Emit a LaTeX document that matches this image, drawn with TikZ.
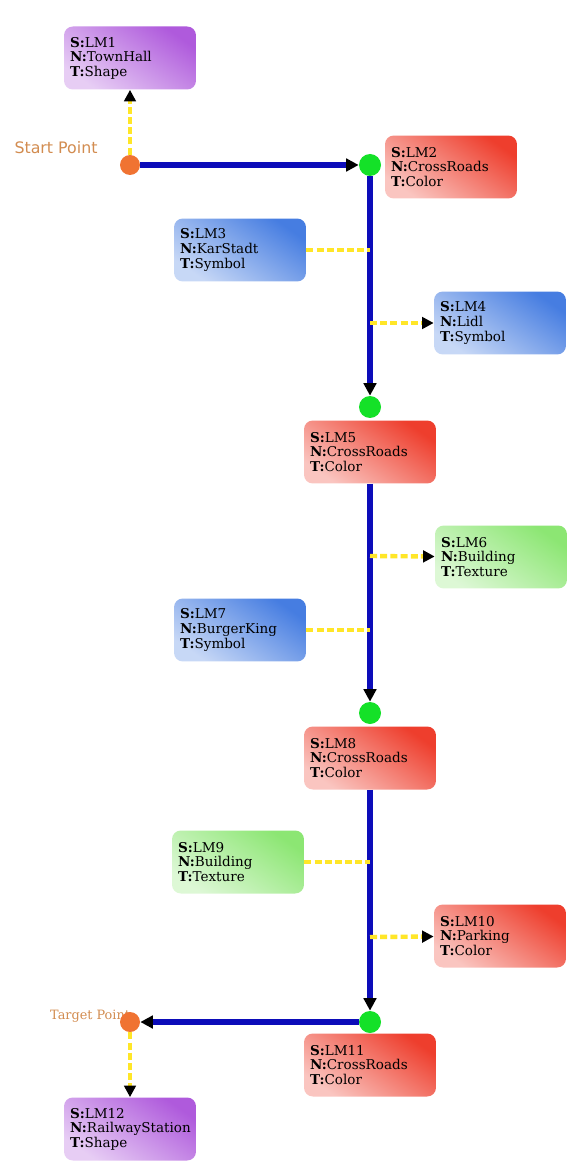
\documentclass[tikz,border=0pt]{standalone}
\usepackage{fontspec}
\setmainfont{DejaVu Serif}
\setsansfont{DejaVu Sans}
\usepackage{xcolor}
\usetikzlibrary{arrows.meta, positioning}
\definecolor{roadblue}{RGB}{12,12,185}
\definecolor{linkyellow}{RGB}{255,230,40}
\definecolor{crossgreen}{RGB}{20,225,40}
\definecolor{ptorange}{RGB}{240,115,50}
\definecolor{lblorange}{RGB}{210,140,80}
\definecolor{lmred}{RGB}{238,62,45}
\definecolor{lmblue}{RGB}{70,125,225}
\definecolor{lmgreen}{RGB}{140,230,115}
\definecolor{lmpurple}{RGB}{175,90,220}

\begin{document}
\begin{tikzpicture}[
    x=0.02cm, y=-0.02cm,
    lm/.style={rectangle, rounded corners=5pt, text width=2.4cm, inner xsep=0.12cm, minimum height=1.26cm, align=left, font=\fontsize{7.7}{8.3}\selectfont},
    redlm/.style={lm, bottom color=lmred!30!white, top color=lmred, shading angle=-35},
    bluelm/.style={lm, bottom color=lmblue!30!white, top color=lmblue, shading angle=-35},
    greenlm/.style={lm, bottom color=lmgreen!30!white, top color=lmgreen, shading angle=-35},
    purplelm/.style={lm, bottom color=lmpurple!30!white, top color=lmpurple, shading angle=-35},
    cross/.style={circle, fill=crossgreen, minimum size=0.44cm, inner sep=0pt},
    endpt/.style={circle, fill=ptorange, minimum size=0.4cm, inner sep=0pt},
    road/.style={draw=roadblue, line width=3pt, -{Triangle[color=black, length=0.25cm, width=0.25cm]}},
    link/.style={draw=linkyellow, line width=2.5pt, dash pattern=on 4pt off 1.8pt},
    linkarrow/.style={link, -{Triangle[color=black, length=0.23cm, width=0.23cm]}},
]
    \useasboundingbox (0,0) rectangle (571,1165);

    \node[purplelm] (lm1) at (130,58) {\textbf{S:}LM1\\\textbf{N:}TownHall\\\textbf{T:}Shape};
    \node[font=\sffamily\fontsize{9}{10}\selectfont, text=lblorange] (startlbl) at (56,148) {Start Point};
    \node[endpt] (start) at (130,165) {};

    \node[cross] (x2) at (370,165) {};
    \node[redlm] (lm2) at (451,167) {\textbf{S:}LM2\\\textbf{N:}CrossRoads\\\textbf{T:}Color};
    \node[bluelm] (lm3) at (240,250) {\textbf{S:}LM3\\\textbf{N:}KarStadt\\\textbf{T:}Symbol};
    \node[bluelm] (lm4) at (500,323) {\textbf{S:}LM4\\\textbf{N:}Lidl\\\textbf{T:}Symbol};
    \coordinate (j3) at (370,250);
    \coordinate (j4) at (370,323);

    \node[cross] (x5) at (370,407) {};
    \node[redlm] (lm5) at (370,452) {\textbf{S:}LM5\\\textbf{N:}CrossRoads\\\textbf{T:}Color};
    \node[greenlm] (lm6) at (501,557) {\textbf{S:}LM6\\\textbf{N:}Building\\\textbf{T:}Texture};
    \node[bluelm] (lm7) at (240,630) {\textbf{S:}LM7\\\textbf{N:}BurgerKing\\\textbf{T:}Symbol};
    \coordinate (j6) at (370,556);
    \coordinate (j7) at (370,630);

    \node[cross] (x8) at (370,713) {};
    \node[redlm] (lm8) at (370,758) {\textbf{S:}LM8\\\textbf{N:}CrossRoads\\\textbf{T:}Color};
    \node[greenlm] (lm9) at (238,862) {\textbf{S:}LM9\\\textbf{N:}Building\\\textbf{T:}Texture};
    \node[redlm] (lm10) at (500,936) {\textbf{S:}LM10\\\textbf{N:}Parking\\\textbf{T:}Color};
    \coordinate (j9) at (370,862);
    \coordinate (j10) at (370,937);

    \node[cross] (x11) at (370,1022) {};
    \node[redlm] (lm11) at (370,1065) {\textbf{S:}LM11\\\textbf{N:}CrossRoads\\\textbf{T:}Color};
    \node[font=\fontsize{7.3}{8}\selectfont, text=lblorange, anchor=west] (targetlbl) at (44,1016) {Target Point};
    \node[endpt] (target) at (130,1022) {};
    \node[purplelm] (lm12) at (130,1129) {\textbf{S:}LM12\\\textbf{N:}RailwayStation\\\textbf{T:}Shape};

    \draw[road] (start) -- (x2);
    \draw[road] (x2) -- (x5);
    \draw[road] (lm5) -- (x8);
    \draw[road] (lm8) -- (x11);
    \draw[road] (x11) -- (target);

    \draw[linkarrow] (start) -- (lm1);
    \draw[link] (lm3) -- (j3);
    \draw[linkarrow] (j4) -- (lm4);
    \draw[linkarrow] (j6) -- (lm6);
    \draw[link] (lm7) -- (j7);
    \draw[link] (lm9) -- (j9);
    \draw[linkarrow] (j10) -- (lm10);
    \draw[linkarrow] (target) -- (lm12);
\end{tikzpicture}
\end{document}
